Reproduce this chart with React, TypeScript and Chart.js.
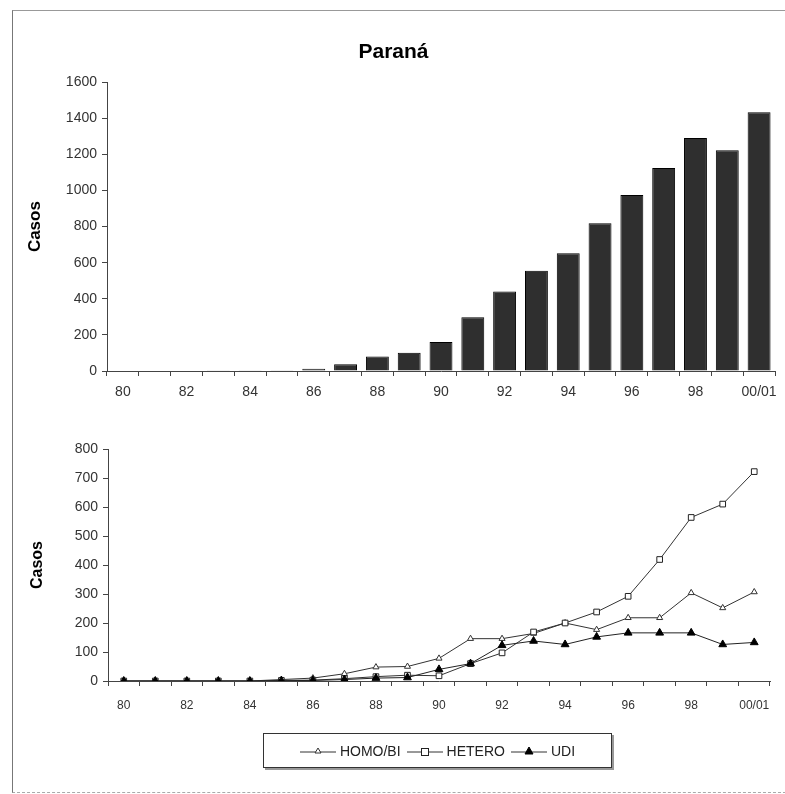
import React, { useEffect, useRef } from 'react';
import { Chart, registerables } from 'chart.js';

Chart.register(...registerables);

const years = ['80', '81', '82', '83', '84', '85', '86', '87', '88', '89', '90', '91', '92', '93', '94', '95', '96', '97', '98', '99', '00/01'];
const totalCases = [0, 0, 0, 1, 1, 4, 13, 37, 81, 101, 160, 298, 440, 556, 653, 819, 975, 1125, 1291, 1223, 1433];
const homoBi = [0, 0, 0, 0, 0, 5, 10, 25, 48, 50, 78, 146, 146, 164, 200, 177, 218, 218, 304, 252, 307];
const hetero = [0, 0, 0, 0, 0, 2, 3, 8, 15, 20, 18, 60, 97, 169, 200, 238, 292, 419, 564, 610, 722];
const udi = [0, 0, 0, 0, 0, 1, 2, 5, 10, 12, 40, 60, 123, 138, 126, 152, 166, 166, 166, 126, 133];

const topMax = 1600;
const topStep = 200;
const bottomMax = 800;
const bottomStep = 100;

const FONT = '"Liberation Sans", Arial, sans-serif';
const TICK_COLOR = '#333';
const AXIS_COLOR = '#444';

const xTickLabel = (_v: any, i: number) => (i % 2 === 0 ? years[i] : '');
const yTickLabel = (v: any) => String(v);

function TopChart() {
  const ref = useRef<HTMLCanvasElement | null>(null);
  useEffect(() => {
    if (!ref.current) return;
    const chart = new Chart(ref.current, {
      type: 'bar',
      data: {
        labels: years,
        datasets: [
          {
            data: totalCases,
            backgroundColor: '#2f2f2f',
            borderColor: '#000',
            borderWidth: 1,
            barPercentage: 0.72,
            categoryPercentage: 1,
          },
        ],
      },
      options: {
        animation: false,
        responsive: false,
        maintainAspectRatio: false,
        layout: { padding: { left: 0, right: 10, top: 0, bottom: 0 } },
        plugins: {
          legend: { display: false },
          tooltip: { enabled: false },
          title: {
            display: true,
            text: 'Paraná',
            color: '#000',
            font: { family: FONT, size: 21, weight: 'bold' },
            padding: { top: 26, bottom: 17 },
          },
        },
        scales: {
          x: {
            offset: true,
            grid: { offset: true, drawOnChartArea: false, drawTicks: true, tickLength: 5, color: AXIS_COLOR },
            border: { color: AXIS_COLOR, width: 1 },
            ticks: {
              autoSkip: false,
              maxRotation: 0,
              padding: 8,
              color: TICK_COLOR,
              font: { family: FONT, size: 14 },
              callback: xTickLabel,
            },
            afterFit: (s: any) => {
              s.height = 43;
            },
          },
          y: {
            min: 0,
            max: topMax,
            grid: { drawOnChartArea: false, drawTicks: true, tickLength: 5, color: AXIS_COLOR },
            border: { color: AXIS_COLOR, width: 1 },
            ticks: { stepSize: topStep, padding: 5, color: TICK_COLOR, font: { family: FONT, size: 14 }, callback: yTickLabel },
            title: {
              display: true,
              text: 'Casos',
              color: '#000',
              font: { family: FONT, size: 17, weight: 'bold' },
              padding: { top: 13, bottom: 0 },
            },
            afterFit: (s: any) => {
              s.width = 95;
            },
          },
        },
      } as any,
    });
    return () => chart.destroy();
  }, []);
  return <canvas ref={ref} width={773} height={400} style={{ position: 'absolute', left: 12, top: 14, width: 773, height: 400 }} />;
}

function BottomChart() {
  const ref = useRef<HTMLCanvasElement | null>(null);
  useEffect(() => {
    if (!ref.current) return;
    const chart = new Chart(ref.current, {
      type: 'line',
      data: {
        labels: years,
        datasets: [
          {
            label: 'HOMO/BI',
            data: homoBi,
            borderColor: '#333',
            borderWidth: 1,
            pointStyle: 'triangle',
            pointRadius: 3.5,
            pointBackgroundColor: '#fff',
            pointBorderColor: '#333',
            pointBorderWidth: 1,
            order: 3,
          },
          {
            label: 'HETERO',
            data: hetero,
            borderColor: '#333',
            borderWidth: 1,
            pointStyle: 'rect',
            pointRadius: 4,
            pointBackgroundColor: '#fff',
            pointBorderColor: '#222',
            pointBorderWidth: 1,
            order: 2,
          },
          {
            label: 'UDI',
            data: udi,
            borderColor: '#222',
            borderWidth: 1,
            pointStyle: 'triangle',
            pointRadius: 4.5,
            pointBackgroundColor: '#000',
            pointBorderColor: '#000',
            pointBorderWidth: 1,
            order: 1,
          },
        ],
      },
      options: {
        animation: false,
        responsive: false,
        maintainAspectRatio: false,
        layout: { padding: { left: 0, right: 15, top: 29, bottom: 0 } },
        plugins: { legend: { display: false }, tooltip: { enabled: false }, title: { display: false } },
        scales: {
          x: {
            offset: true,
            grid: { offset: true, drawOnChartArea: false, drawTicks: true, tickLength: 5, color: AXIS_COLOR },
            border: { color: AXIS_COLOR, width: 1 },
            ticks: {
              autoSkip: false,
              maxRotation: 0,
              padding: 12,
              color: TICK_COLOR,
              font: { family: FONT, size: 12 },
              callback: xTickLabel,
            },
            afterFit: (s: any) => {
              s.height = 59;
            },
          },
          y: {
            min: 0,
            max: bottomMax,
            grid: { drawOnChartArea: false, drawTicks: true, tickLength: 5, color: AXIS_COLOR },
            border: { color: AXIS_COLOR, width: 1 },
            ticks: { stepSize: bottomStep, padding: 5, color: TICK_COLOR, font: { family: FONT, size: 14 }, callback: yTickLabel },
            title: {
              display: true,
              text: 'Casos',
              color: '#000',
              font: { family: FONT, size: 16, weight: 'bold' },
              padding: { top: 16, bottom: 0 },
            },
            afterFit: (s: any) => {
              s.width = 96;
            },
          },
        },
      } as any,
    });
    return () => chart.destroy();
  }, []);
  return <canvas ref={ref} width={773} height={320} style={{ position: 'absolute', left: 12, top: 420, width: 773, height: 320 }} />;
}

function Marker({ kind }: { kind: 'openTri' | 'openSq' | 'fillTri' }) {
  return (
    <svg width={36} height={12} style={{ display: 'block' }}>
      <line x1={0} y1={7} x2={36} y2={7} stroke="#333" strokeWidth={1} />
      {kind === 'openTri' && <polygon points="18,3 21,8 15,8" fill="#fff" stroke="#333" strokeWidth={1} />}
      {kind === 'openSq' && <rect x={14.5} y={3.5} width={7} height={7} fill="#fff" stroke="#222" strokeWidth={1} />}
      {kind === 'fillTri' && <polygon points="18,2 22,9 14,9" fill="#000" stroke="#000" strokeWidth={1} />}
    </svg>
  );
}

function Legend() {
  const items: { label: string; kind: 'openTri' | 'openSq' | 'fillTri' }[] = [
    { label: 'HOMO/BI', kind: 'openTri' },
    { label: 'HETERO', kind: 'openSq' },
    { label: 'UDI', kind: 'fillTri' },
  ];
  return (
    <div
      style={{
        position: 'absolute',
        left: 263,
        top: 733,
        width: 347,
        height: 33,
        border: '1px solid #333',
        boxShadow: '2px 2px 0 #999',
        background: '#fff',
        display: 'flex',
        alignItems: 'center',
        justifyContent: 'center',
        gap: 6,
        fontFamily: FONT,
        fontSize: 14,
        color: '#222',
      }}
    >
      {items.map((it) => (
        <div key={it.label} style={{ display: 'flex', alignItems: 'center', gap: 4 }}>
          <Marker kind={it.kind} />
          <span>{it.label}</span>
        </div>
      ))}
    </div>
  );
}

export default function App() {
  return (
    <div style={{ position: 'absolute', left: 0, top: 0, width: 785, height: 794, background: '#fff', overflow: 'hidden' }}>
      <div
        style={{
          position: 'absolute',
          left: 12,
          top: 10,
          width: 773,
          height: 781,
          borderLeft: '1px solid #777',
          borderTop: '1px solid #999',
          borderBottom: '1px dashed #aaa',
        }}
      />
      <TopChart />
      <BottomChart />
      <Legend />
    </div>
  );
}
